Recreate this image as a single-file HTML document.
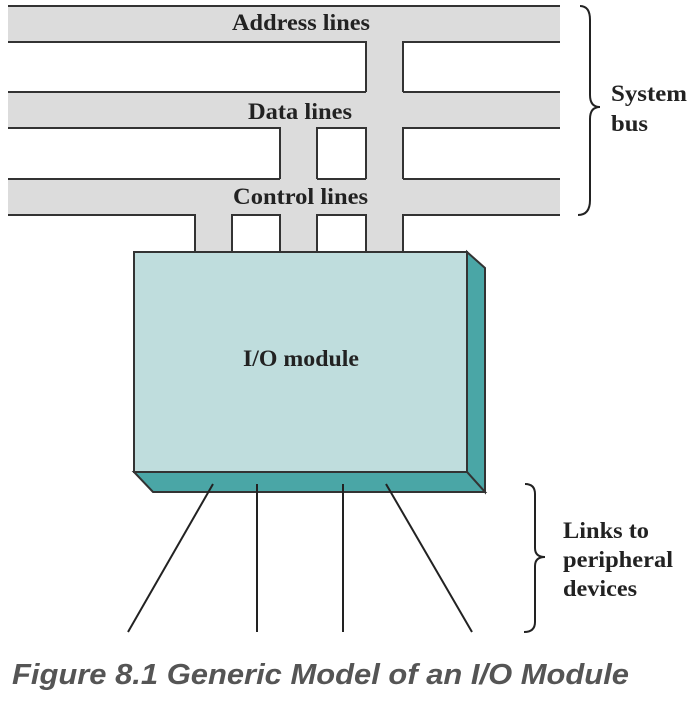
<!DOCTYPE html>
<html><head><meta charset="utf-8"><style>
html,body{margin:0;padding:0;background:#fff;}
svg{display:block;}
</style></head><body>
<svg width="697" height="728" viewBox="0 0 697 728" xmlns="http://www.w3.org/2000/svg">
<g fill="#dcdcdc">
<rect x="8" y="6" width="552" height="36"/>
<rect x="8" y="92" width="552" height="36"/>
<rect x="8" y="179" width="552" height="36"/>
<rect x="366" y="42" width="37" height="50"/>
<rect x="366" y="128" width="37" height="51"/>
<rect x="366" y="215" width="37" height="37"/>
<rect x="280" y="128" width="37" height="51"/>
<rect x="280" y="215" width="37" height="37"/>
<rect x="195" y="215" width="37" height="37"/>
</g>
<g stroke="#333" stroke-width="2" fill="none">
<line x1="8" y1="6" x2="560" y2="6"/>
<path d="M8 42 H366 V92 M403 92 V42 H560"/>
<path d="M8 92 H366 M403 92 H560"/>
<path d="M8 128 H280 V179 M317 179 V128 H366 V179 M403 179 V128 H560"/>
<path d="M8 179 H280 M317 179 H366 M403 179 H560"/>
<path d="M8 215 H195 V252 M232 252 V215 H280 V252 M317 252 V215 H366 V252 M403 252 V215 H560"/>
</g>
<polygon points="467,252 485,268 485,492 467,472" fill="#4aa6a6" stroke="#333" stroke-width="2"/>
<polygon points="134,472 467,472 485,492 153,492" fill="#4aa6a6" stroke="#333" stroke-width="2"/>
<rect x="134" y="252" width="333" height="220" fill="#bfdddd" stroke="#333" stroke-width="2"/>
<g stroke="#222" stroke-width="2">
<line x1="213" y1="484" x2="128" y2="632"/>
<line x1="257" y1="484" x2="257" y2="632"/>
<line x1="343" y1="484" x2="343" y2="632"/>
<line x1="386" y1="484" x2="472" y2="632"/>
</g>
<g stroke="#222" stroke-width="2" fill="none">
<path d="M580 6 Q590 6 590 20 V95 Q590 107 600 107 Q590 107 590 119 V200 Q590 215 578 215"/>
<path d="M525 484 Q535 484 535 494 V548 Q535 557 545 557 Q535 557 535 566 V622 Q535 632 524 632"/>
</g>
<g font-family="Liberation Serif, serif" font-weight="bold" font-size="23" fill="#222">
<text x="232" y="30" textLength="138" lengthAdjust="spacingAndGlyphs">Address lines</text>
<text x="248" y="119" textLength="104" lengthAdjust="spacingAndGlyphs">Data lines</text>
<text x="233" y="204" textLength="135" lengthAdjust="spacingAndGlyphs">Control lines</text>
<text x="243" y="366" textLength="116" lengthAdjust="spacingAndGlyphs">I/O module</text>
<text x="611" y="101" textLength="76" lengthAdjust="spacingAndGlyphs">System</text>
<text x="611" y="131" textLength="37" lengthAdjust="spacingAndGlyphs">bus</text>
<text x="563" y="538" textLength="86" lengthAdjust="spacingAndGlyphs">Links to</text>
<text x="563" y="567" textLength="110" lengthAdjust="spacingAndGlyphs">peripheral</text>
<text x="563" y="596" textLength="74" lengthAdjust="spacingAndGlyphs">devices</text>
</g>
<text x="12" y="684" font-family="Liberation Sans, sans-serif" font-weight="bold" font-style="italic" font-size="29" fill="#555" textLength="617" lengthAdjust="spacingAndGlyphs">Figure 8.1 Generic Model of an I/O Module</text>
</svg>
</body></html>
